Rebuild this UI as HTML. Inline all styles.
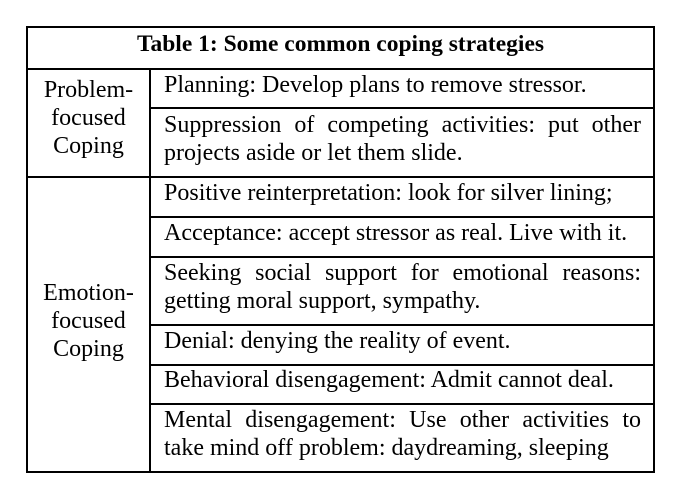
<!DOCTYPE html>
<html><head><meta charset="utf-8"><style>
body{margin:0;width:677px;height:481px;background:#fff;position:relative;font-family:"Liberation Serif",serif;color:#000;overflow:hidden}
.l{position:absolute;background:#000}
.t{position:absolute;font-size:24px;line-height:28px;text-align:justify;text-align-last:left}
.c{position:absolute;font-size:24px;line-height:28px;text-align:center}
</style></head><body>
<div class="l" style="left:26px;top:26px;width:629px;height:2px"></div>
<div class="l" style="left:26px;top:471px;width:629px;height:2px"></div>
<div class="l" style="left:26px;top:26px;width:2px;height:447px"></div>
<div class="l" style="left:653px;top:26px;width:2px;height:447px"></div>
<div class="l" style="left:26px;top:68px;width:629px;height:2px"></div>
<div class="l" style="left:149px;top:68px;width:2px;height:405px"></div>
<div class="l" style="left:26px;top:176px;width:629px;height:2px"></div>
<div class="l" style="left:149px;top:107px;width:506px;height:2px"></div>
<div class="l" style="left:149px;top:216px;width:506px;height:2px"></div>
<div class="l" style="left:149px;top:256px;width:506px;height:2px"></div>
<div class="l" style="left:149px;top:324px;width:506px;height:2px"></div>
<div class="l" style="left:149px;top:364px;width:506px;height:2px"></div>
<div class="l" style="left:149px;top:403px;width:506px;height:2px"></div>
<div class="c" style="left:28px;top:30px;width:625px;font-weight:bold;font-size:23.5px">Table 1: Some common coping strategies</div>
<div class="c" style="left:28px;top:76px;width:121px">Problem-<br>focused<br>Coping</div>
<div class="c" style="left:28px;top:279px;width:121px">Emotion-<br>focused<br>Coping</div>
<div class="t" style="left:164px;top:71px;width:477px">Planning: Develop plans to remove stressor.</div>
<div class="t" style="left:164px;top:111px;width:477px">Suppression of competing activities: put other projects aside or let them slide.</div>
<div class="t" style="left:164px;top:179px;width:477px">Positive reinterpretation: look for silver lining;</div>
<div class="t" style="left:164px;top:219px;width:477px">Acceptance: accept stressor as real. Live with it.</div>
<div class="t" style="left:164px;top:259px;width:477px">Seeking social support for emotional reasons: getting moral support, sympathy.</div>
<div class="t" style="left:164px;top:327px;width:477px">Denial: denying the reality of event.</div>
<div class="t" style="left:164px;top:366px;width:477px">Behavioral disengagement: Admit cannot deal.</div>
<div class="t" style="left:164px;top:406px;width:477px">Mental disengagement: Use other activities to take mind off problem: daydreaming, sleeping</div>
</body></html>
